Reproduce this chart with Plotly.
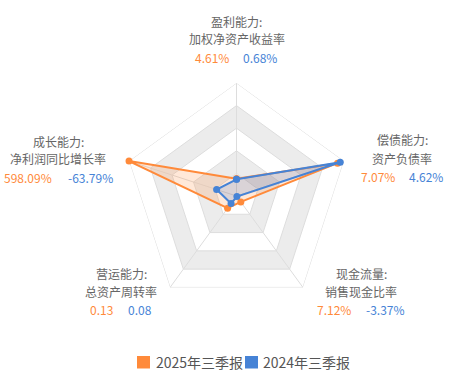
import plotly.graph_objects as go

W, H = 449, 375

# ---- data ----
categories = ["盈利能力", "偿债能力", "现金流量", "营运能力", "成长能力"]
metric_names = ["加权净资产收益率", "资产负债率", "销售现金比率", "总资产周转率", "净利润同比增长率"]
series_names = ["2025年三季报", "2024年三季报"]
labels_2025 = ["4.61%", "7.07%", "7.12%", "0.13", "598.09%"]
labels_2024 = ["0.68%", "4.62%", "-3.37%", "0.08", "-63.79%"]
# normalized radar values
r_2025 = [0.152, 0.94, 0.065, 0.134, 1.0]
r_2024 = [0.148, 0.965, 0.006, 0.082, 0.185]
grid_levels = [0.2, 0.4, 0.6, 0.8, 1.0]

ORANGE = "#ff8a3a"
BLUE = "#4683d6"
GREY_TXT = "#666666"
FONT = "Noto Sans CJK SC, Microsoft YaHei, sans-serif"

cx, cy, R = 236.5, 196, 113

fig = go.Figure()

closed = categories + [categories[0]]

# alternating bands (outer first)
band_colors = ["#ffffff", "#ececec", "#ffffff", "#ececec", "#ffffff"]
for lvl, col in sorted(zip(grid_levels, band_colors), key=lambda t: -t[0]):
    fig.add_trace(go.Scatterpolar(
        r=[lvl] * 6, theta=closed, mode="lines", fill="toself",
        fillcolor=col, line=dict(width=0, color=col), hoverinfo="skip"))
# ring lines
for lvl in grid_levels:
    fig.add_trace(go.Scatterpolar(
        r=[lvl] * 6, theta=closed, mode="lines",
        line=dict(width=1, color="#dddddd"), hoverinfo="skip"))
# spokes
for c in categories:
    fig.add_trace(go.Scatterpolar(
        r=[0, 1], theta=[c, c], mode="lines",
        line=dict(width=1, color="#dddddd"), hoverinfo="skip"))

# data series
for name, vals, col, fcol in [
    (series_names[0], r_2025, ORANGE, "rgba(255,138,58,0.2)"),
    (series_names[1], r_2024, BLUE, "rgba(70,131,214,0.2)"),
]:
    fig.add_trace(go.Scatterpolar(
        r=vals + [vals[0]], theta=closed, name=name, mode="lines+markers",
        fill="toself", fillcolor=fcol,
        line=dict(color=col, width=2),
        marker=dict(size=7, color=col)))

fig.update_layout(
    width=W, height=H,
    margin=dict(l=0, r=0, t=0, b=0),
    paper_bgcolor="white", plot_bgcolor="white",
    showlegend=False,
    polar=dict(
        domain=dict(x=[(cx - R) / W, (cx + R) / W], y=[1 - (cy + R) / H, 1 - (cy - R) / H]),
        bgcolor="rgba(0,0,0,0)",
        gridshape="linear",
        radialaxis=dict(range=[0, 1], visible=False, showgrid=False),
        angularaxis=dict(direction="clockwise", rotation=90, showgrid=False,
                         showline=False, showticklabels=False, ticks=""),
    ),
)

def px(x, y):
    return x / W, 1 - y / H

annotations = []
def add_text(x, y, text, color, size=12, anchor="center"):
    ax, ay = px(x, y)
    annotations.append(dict(x=ax, y=ay, xref="paper", yref="paper", text=text,
                            showarrow=False, xanchor=anchor, yanchor="middle",
                            font=dict(family=FONT, size=size, color=color)))

# label positions: (title center x, title y, value1 x, value2 x)
label_pos = [
    (236.5, 21, 212, 260),
    (402, 140, 377.5, 426),
    (361, 273, 333.5, 385.5),
    (121, 273, 101, 140),
    (58.5, 141, 28, 90),
]
for i, (tx, ty, v1x, v2x) in enumerate(label_pos):
    add_text(tx, ty, categories[i] + ":", GREY_TXT)
    add_text(tx, ty + 18, metric_names[i], GREY_TXT)
    add_text(v1x, ty + 36, labels_2025[i], ORANGE)
    add_text(v2x, ty + 36, labels_2024[i], BLUE)

# legend
shapes = []
for (sx, tx), name, col in zip([(137, 154), (245, 261)], series_names, [ORANGE, BLUE]):
    x0, y1 = px(sx, 356)
    x1, y0 = px(sx + 13, 368.5)
    shapes.append(dict(type="rect", xref="paper", yref="paper", x0=x0, x1=x1, y0=y0, y1=y1,
                       fillcolor=col, line=dict(width=0)))
    add_text(tx, 361.5, name, "#555555", size=14, anchor="left")

fig.update_layout(annotations=annotations, shapes=shapes)
fig.write_html("out.html", config={"displayModeBar": False},
               post_script="document.body.style.margin='0';document.body.style.overflow='hidden';")
